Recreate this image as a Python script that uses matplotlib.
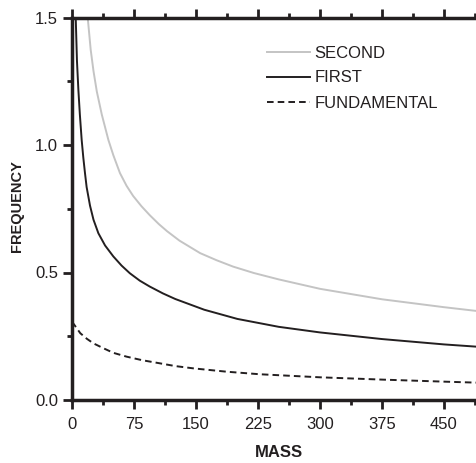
import matplotlib
matplotlib.use("Agg")
import matplotlib.pyplot as plt
from matplotlib.ticker import MultipleLocator

# Mode frequencies against mass
second_mass = [19, 22.6, 26, 30, 36, 44, 50, 58, 66, 74, 84, 94, 105, 115, 130, 155,
               175, 195, 220, 250, 300, 375, 450, 490]
second_freq = [1.50, 1.374, 1.29, 1.21, 1.12, 1.02, 0.96, 0.89, 0.84, 0.80, 0.76, 0.725,
               0.69, 0.662, 0.625, 0.576, 0.548, 0.523, 0.498, 0.473, 0.436, 0.395,
               0.364, 0.349]

first_mass = [4.5, 6, 7.7, 9.5, 11.7, 13.7, 15.7, 17.7, 21.8, 26, 31.9, 40, 50, 60, 70,
              82, 94, 110, 125, 160, 200, 250, 300, 375, 450, 490]
first_freq = [1.50, 1.33, 1.217, 1.12, 1.02, 0.95, 0.89, 0.835, 0.762, 0.707, 0.654,
              0.606, 0.563, 0.527, 0.497, 0.468, 0.445, 0.418, 0.396, 0.354, 0.318,
              0.287, 0.265, 0.239, 0.218, 0.209]

fund_mass = [0, 5, 10, 18, 26, 38, 50, 66, 85, 106, 125, 147, 187, 227, 300, 375, 450, 490]
fund_freq = [0.307, 0.285, 0.262, 0.240, 0.222, 0.203, 0.185, 0.170, 0.156, 0.144, 0.133,
             0.124, 0.111, 0.101, 0.089, 0.080, 0.072, 0.068]

x_ticks = [0, 75, 150, 225, 300, 375, 450]
y_ticks = [0.0, 0.5, 1.0, 1.5]

FONT = ["Liberation Sans", "DejaVu Sans"]
INK = "#231f20"

plt.rcParams["font.family"] = FONT

fig = plt.figure(figsize=(4.76, 4.63), dpi=100)
ax = fig.add_axes([72 / 476, 63 / 463, 413.3 / 476, 382.5 / 463])

line_kw = dict(lw=1.4, solid_joinstyle="round", dash_joinstyle="round")
ax.plot(second_mass, second_freq, color="#c4c4c4", label="SECOND", **line_kw)
ax.plot(first_mass, first_freq, color=INK, label="FIRST", **line_kw)
ax.plot(fund_mass, fund_freq, color=INK, linestyle=(0, (3.4, 2.1)),
        label="FUNDAMENTAL", **line_kw)

ax.set_xlim(0, 500)
ax.set_ylim(0, 1.5)
ax.set_xticks(x_ticks)
ax.set_yticks(y_ticks)
ax.set_yticklabels([f"{v:.1f}" for v in y_ticks])
ax.xaxis.set_minor_locator(MultipleLocator(37.5))
ax.yaxis.set_minor_locator(MultipleLocator(0.25))

for side in ("left", "bottom", "top"):
    ax.spines[side].set_linewidth(2.5)
    ax.spines[side].set_color(INK)
ax.spines["right"].set_visible(False)

ax.tick_params(which="major", direction="out", length=6.5, width=2.0, color=INK,
               labelsize=12, labelcolor=INK, pad=3.5, top=True, labeltop=False)
ax.tick_params(which="minor", direction="out", length=3.5, width=2.0, color=INK,
               top=True)
ax.tick_params(axis="x", which="major", pad=6)

ax.set_xlabel("MASS", fontsize=12, fontweight="bold", color=INK)
ax.xaxis.set_label_coords(0.5, -0.118)
ax.set_ylabel("FREQUENCY", fontsize=10.5, fontweight="bold", color=INK)
ax.yaxis.set_label_coords(-0.116, 0.507)

leg = ax.legend(loc="upper left", bbox_to_anchor=(267 / 476, 1 - 45.5 / 463),
                bbox_transform=fig.transFigure, frameon=False, fontsize=12,
                handlelength=2.6, handletextpad=0.24, labelspacing=0.6,
                borderpad=0, borderaxespad=0)
for t in leg.get_texts():
    t.set_color(INK)

fig.savefig("out.png", dpi=100)
